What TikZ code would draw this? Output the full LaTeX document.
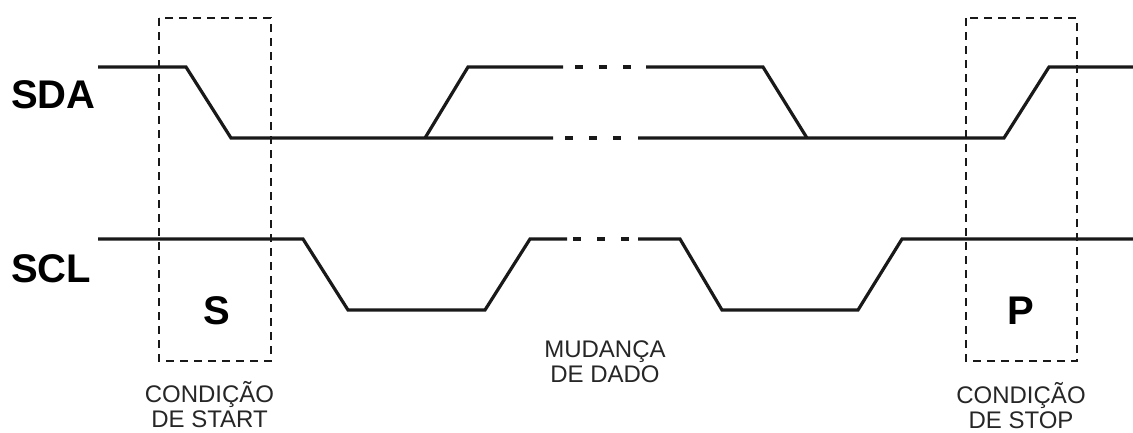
\documentclass[tikz,border=0pt]{standalone}
\usepackage{fontspec}
\setmainfont{Liberation Sans}
\begin{document}
\begin{tikzpicture}[x=1pt,y=-1pt,
  wave/.style={line width=3.2pt,color=black!90,line join=miter},
  gapdash/.style={wave,dash pattern=on 7.5pt off 16.5pt},
  condbox/.style={line width=1.8pt,dash pattern=on 8pt off 6pt,color=black!90},
  signame/.style={font=\fontsize{40}{48}\selectfont\bfseries,anchor=base west,inner sep=0pt},
  condletter/.style={font=\fontsize{40}{48}\selectfont\bfseries,anchor=base,inner sep=0pt},
  note/.style={font=\fontsize{24}{24.5}\selectfont,align=center,anchor=base,inner sep=0pt,text=black!85}]
\useasboundingbox (0,0) rectangle (1133,432);

% signal names
\node[signame] (sda) at (11,108) {SDA};
\node[signame] (scl) at (11,282) {SCL};

% SDA: start fall, low level, data window, stop rise
\draw[wave] (98,67) -- (186,67) -- (231,138) -- (553,138);
\draw[wave] (425,138) -- (468,67) -- (563,67);
\draw[gapdash] (575,67) -- (635,67);
\draw[wave] (646,67) -- (763,67) -- (807,138);
\draw[gapdash] (565,138) -- (625,138);
\draw[wave] (638,138) -- (1004,138) -- (1049,67) -- (1133,67);

% SCL: clock pulses
\draw[wave] (98,239) -- (303,239) -- (348,310) -- (485,310) -- (530,239) -- (567,239);
\draw[gapdash] (573,239) -- (633,239);
\draw[wave] (638,239) -- (680,239) -- (722,310) -- (858,310) -- (902,239) -- (1133,239);

% start and stop condition windows
\draw[condbox] (159,18) rectangle (271,361);
\draw[condbox] (966,18) rectangle (1077,361);
\node[condletter] (s) at (216.5,324) {S};
\node[condletter] (p) at (1020.5,324) {P};

% captions (anchored on the baseline of the last line)
\node[note] (start) at (209.5,427) {CONDIÇÃO\\DE START};
\node[note] (mud) at (605,382) {MUDANÇA\\DE DADO};
\node[note] (stop) at (1021,428) {CONDIÇÃO\\DE STOP};
\end{tikzpicture}
\end{document}
